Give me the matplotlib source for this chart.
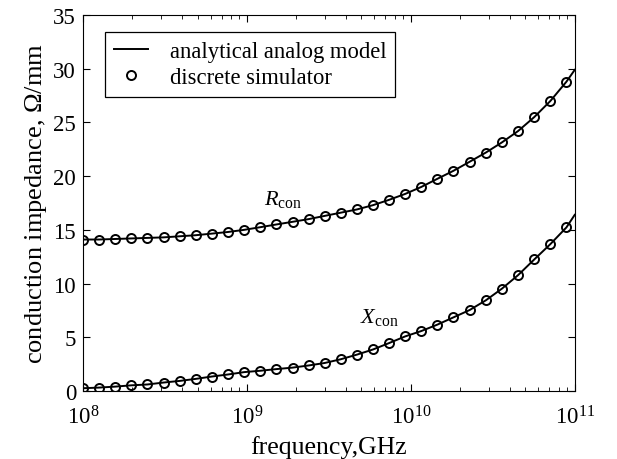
import matplotlib
matplotlib.use("Agg")
import matplotlib.pyplot as plt

plt.rcParams['font.family'] = ['Liberation Serif', 'DejaVu Serif']
plt.rcParams['mathtext.fontset'] = 'custom'
plt.rcParams['mathtext.rm'] = 'Liberation Serif'
plt.rcParams['mathtext.it'] = 'Liberation Serif:italic'

# simulator sample frequencies (Hz)
freq = [1.00e8, 1.25e8, 1.57e8, 1.97e8, 2.47e8, 3.10e8, 3.88e8, 4.87e8, 6.11e8, 7.66e8,
        9.61e8, 1.21e9, 1.51e9, 1.90e9, 2.38e9, 2.98e9, 3.74e9, 4.69e9, 5.88e9, 7.38e9,
        9.25e9, 1.16e10, 1.45e10, 1.82e10, 2.29e10, 2.87e10, 3.60e10, 4.51e10, 5.66e10,
        7.10e10, 8.90e10]

# discrete simulator
r_sim = [14.1, 14.1, 14.15, 14.2, 14.25, 14.3, 14.4, 14.5, 14.65, 14.8,
         15.0, 15.25, 15.5, 15.75, 16.0, 16.3, 16.6, 16.9, 17.3, 17.8,
         18.35, 19.0, 19.75, 20.5, 21.35, 22.2, 23.15, 24.2, 25.5, 27.0, 28.8]
x_sim = [0.25, 0.31, 0.40, 0.52, 0.60, 0.78, 0.93, 1.12, 1.34, 1.53,
         1.75, 1.88, 2.03, 2.17, 2.37, 2.60, 2.95, 3.38, 3.86, 4.46,
         5.08, 5.58, 6.17, 6.85, 7.54, 8.44, 9.53, 10.78, 12.24, 13.67, 15.23]

# analytical model (same grid plus end point)
freq_model = freq + [1.0e11]
r_model = r_sim + [29.9]
x_model = x_sim + [16.4]

fig = plt.figure(figsize=(6.17, 4.6), dpi=100)
ax = fig.add_axes([0.1345, 0.148, 0.797, 0.817])

ax.plot(freq_model, r_model, color='black', lw=1.4, label='analytical analog model')
ax.plot(freq_model, x_model, color='black', lw=1.4)
ax.plot(freq, r_sim, 'o', ms=6.5, mfc='none', mec='black', mew=1.4, label='discrete simulator')
ax.plot(freq, x_sim, 'o', ms=6.5, mfc='none', mec='black', mew=1.4)

ax.set_xscale('log')
ax.set_xlim(1e8, 1e11)
ax.set_ylim(0, 35)
ax.set_yticks([0, 5, 10, 15, 20, 25, 30, 35])
ax.tick_params(which='both', direction='in', top=True, right=True, labelsize=16.5)
ax.tick_params(which='major', length=5, width=0.8)
ax.tick_params(which='minor', length=3, width=0.6)
ax.tick_params(axis='x', pad=10)
ax.tick_params(axis='y', pad=5)

ax.set_xlabel('frequency,GHz', fontsize=18.5, labelpad=5)
ax.set_ylabel(r'conduction impedance, $\Omega$/mm', fontsize=19, labelpad=3)

ax.text(1.28e9, 17.9, r'$R_{\rm con}$', fontsize=16, ha='left', va='center')
ax.text(4.9e9, 6.9, r'$X_{\rm con}$', fontsize=16, ha='left', va='center')

leg = ax.legend(loc='upper left', bbox_to_anchor=(0.045, 0.955), borderaxespad=0,
                fontsize=16.3, fancybox=False, edgecolor='black', framealpha=1,
                handlelength=1.5, borderpad=0.4, labelspacing=0.22, handletextpad=0.95)
leg.get_frame().set_linewidth(0.9)

fig.savefig('out.png', dpi=100)
